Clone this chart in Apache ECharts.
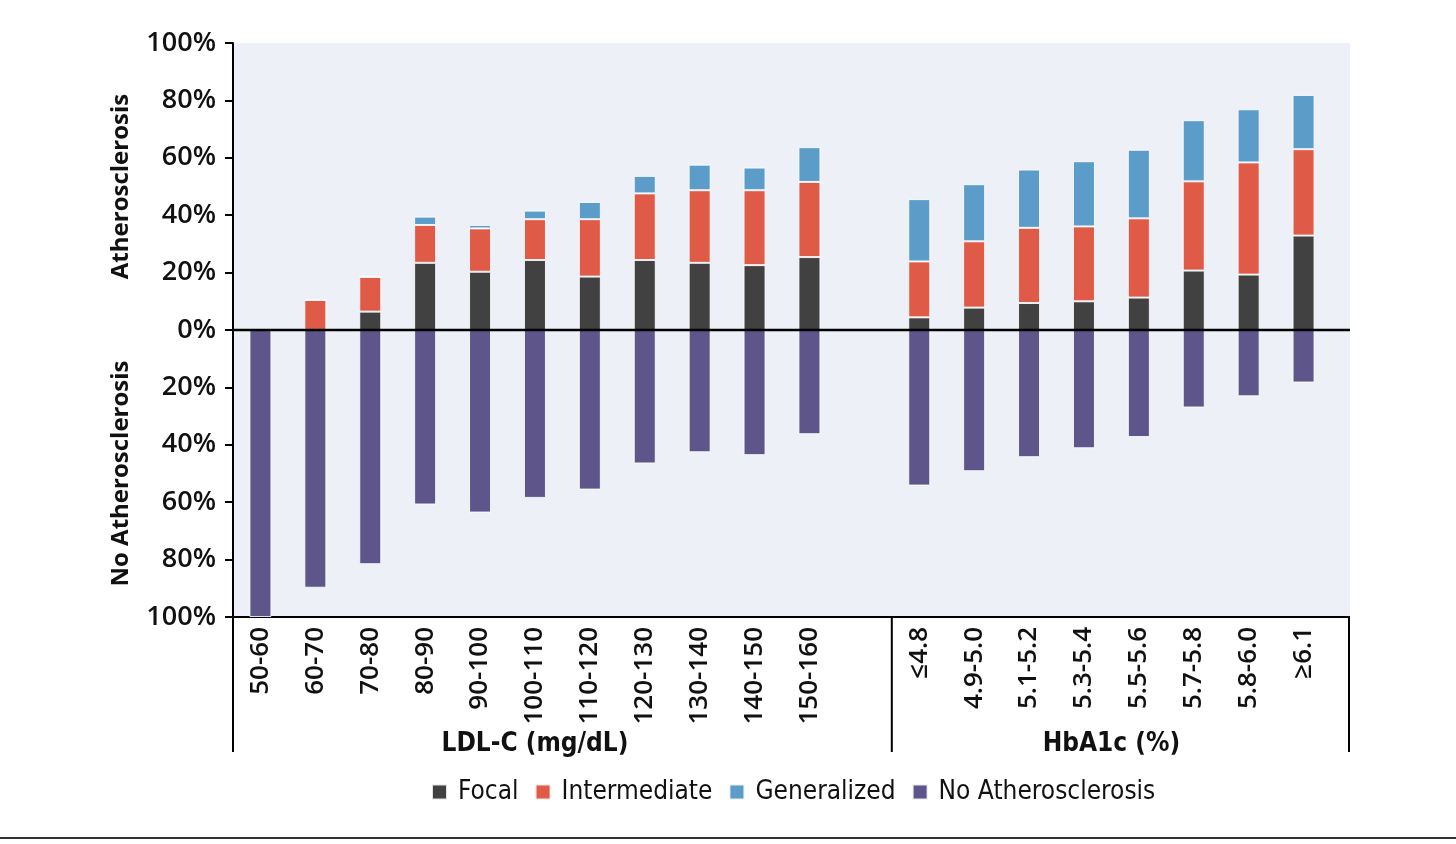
<!DOCTYPE html>
<html>
<head>
<meta charset="utf-8">
<script src="https://cdn.jsdelivr.net/npm/echarts@6/dist/echarts.min.js"></script>
<style>
  html, body { margin: 0; padding: 0; background: #fff; }
  #chart { width: 1456px; height: 844px; }
</style>
</head>
<body>
<div id="chart"></div>
<script>
// categories: 11 LDL-C bins, one empty slot, 8 HbA1c bins
var ldlCats = ['50-60', '60-70', '70-80', '80-90', '90-100', '100-110', '110-120', '120-130', '130-140', '140-150', '150-160'];
var hbaCats = ['≤4.8', '4.9-5.0', '5.1-5.2', '5.3-5.4', '5.5-5.6', '5.7-5.8', '5.8-6.0', '≥6.1'];
var categories = ldlCats.concat(['']).concat(hbaCats);

// segment values (%), null = gap slot
var focal        = [0, 0, 6.4, 23.4, 20.3, 24.4, 18.6, 24.4, 23.4, 22.6, 25.4, null, 4.4, 7.8, 9.4, 10.0, 11.3, 20.7, 19.3, 32.9];
var intermediate = [0, 10.5, 12.1, 13.2, 15.1, 14.2, 20.0, 23.2, 25.3, 26.1, 26.2, null, 19.5, 23.1, 26.2, 26.1, 27.6, 31.1, 39.1, 30.1];
var generalized  = [0, 0, 0, 2.9, 1.2, 3.0, 6.0, 6.1, 8.9, 7.9, 12.1, null, 21.7, 19.9, 20.3, 22.7, 23.9, 21.3, 18.5, 18.9];
var noAthero     = [-100, -89.8, -81.6, -60.8, -63.6, -58.5, -55.6, -46.5, -42.6, -43.6, -36.3, null, -54.2, -49.2, -44.3, -41.2, -37.3, -27.0, -23.1, -18.3];

var tickFont = 'Open Sans';
var narrowFont = '"Liberation Sans Narrow", "DejaVu Sans Condensed", sans-serif';
var bg = '#edf0f7';

var chart = echarts.init(document.getElementById('chart'));

var barStyle = function (color) {
  return {
    color: color,
    borderColor: 'rgba(255,255,255,0.85)',
    borderWidth: 1
  };
};

var option = {
  animation: false,
  grid: {
    left: 233,
    right: 125,
    top: 43,
    bottom: 227,
    show: true,
    backgroundColor: bg,
    borderWidth: 0
  },
  legend: {
    left: 426,
    top: 774,
    itemWidth: 15,
    itemHeight: 15,
    itemGap: 16,
    icon: 'rect',
    textStyle: {
      fontFamily: narrowFont,
      fontSize: 26,
      color: '#111',
      padding: [0, 0, 0, 6]
    },
    data: ['Focal', 'Intermediate', 'Generalized', 'No Atherosclerosis']
  },
  xAxis: {
    type: 'category',
    data: categories,
    axisLine: { onZero: false, lineStyle: { color: '#000', width: 2 } },
    axisTick: { show: false },
    axisLabel: {
      interval: 0,
      rotate: 90,
      margin: 10,
      color: '#111',
      fontFamily: tickFont,
      fontWeight: 600,
      fontSize: 26
    }
  },
  yAxis: {
    type: 'value',
    min: -100,
    max: 100,
    interval: 20,
    axisLine: { show: true, lineStyle: { color: '#000', width: 2 } },
    axisTick: { show: true, length: 8, lineStyle: { color: '#000', width: 2 } },
    splitLine: { show: false },
    axisLabel: {
      margin: 17,
      color: '#111',
      fontFamily: tickFont,
      fontWeight: 600,
      fontSize: 27,
      formatter: function (v) { return Math.abs(v) + '%'; }
    }
  },
  series: [
    { name: 'Focal', type: 'bar', stack: 'ath', barWidth: 22, data: focal, itemStyle: barStyle('#414141') },
    { name: 'Intermediate', type: 'bar', stack: 'ath', barWidth: 22, data: intermediate, itemStyle: barStyle('#e05a48') },
    { name: 'Generalized', type: 'bar', stack: 'ath', barWidth: 22, data: generalized, itemStyle: barStyle('#5b9cc9') },
    { name: 'No Atherosclerosis', type: 'bar', stack: 'none', barWidth: 22, barGap: '-100%', data: noAthero, itemStyle: barStyle('#5e568b') }
  ]
};

chart.setOption(option);

// decorations placed from the axis scales
var zeroY = chart.convertToPixel({ yAxisIndex: 0 }, 0);
var topY = chart.convertToPixel({ yAxisIndex: 0 }, 100);
var botY = chart.convertToPixel({ yAxisIndex: 0 }, -100);
var cx = function (i) { return chart.convertToPixel({ xAxisIndex: 0 }, categories[i]); };
var plotLeft = 233, plotRight = 1350, gridRight = 1456 - 125;
var sepX = (cx(ldlCats.length) + cx(ldlCats.length + 1)) / 2;
var boxBottom = 752;
var ldlMid = (cx(0) + cx(ldlCats.length - 1)) / 2;
var hbaMid = (cx(ldlCats.length + 1) + cx(categories.length - 1)) / 2;

var line = function (x1, y1, x2, y2, w, z) {
  return { type: 'line', silent: true, z: z || 10, shape: { x1: x1, y1: y1, x2: x2, y2: y2 }, style: { stroke: '#000', lineWidth: w } };
};
var text = function (t, x, y, size, rot, family, weight) {
  return {
    type: 'text', silent: true, x: x, y: y, rotation: rot || 0, z: 10,
    style: {
      text: t, fill: '#111', fontSize: size, fontFamily: family, fontWeight: weight,
      align: 'center', verticalAlign: 'middle', textAlign: 'center', textVerticalAlign: 'middle'
    }
  };
};

chart.setOption({
  graphic: [
    { type: 'rect', silent: true, z: -1, shape: { x: gridRight - 1, y: topY, width: plotRight - gridRight + 1, height: botY - topY }, style: { fill: bg } },
    line(plotLeft, zeroY, plotRight, zeroY, 2.5, 20),
    line(gridRight - 1, botY, plotRight, botY, 2),
    line(plotLeft, botY, plotLeft, boxBottom, 2),
    line(sepX, botY, sepX, boxBottom, 2),
    line(plotRight - 1, botY, plotRight - 1, boxBottom, 2),
    text('Atherosclerosis', 121, (topY + zeroY) / 2, 24, Math.PI / 2, tickFont, 700),
    text('No Atherosclerosis', 121, (zeroY + botY) / 2, 24, Math.PI / 2, tickFont, 700),
    text('LDL-C (mg/dL)', ldlMid, 744, 26, 0, narrowFont, 700),
    text('HbA1c (%)', hbaMid, 744, 26, 0, narrowFont, 700),
    { type: 'line', silent: true, shape: { x1: 0, y1: 838, x2: 1456, y2: 838 }, style: { stroke: '#333', lineWidth: 2 } }
  ]
});
</script>
</body>
</html>
